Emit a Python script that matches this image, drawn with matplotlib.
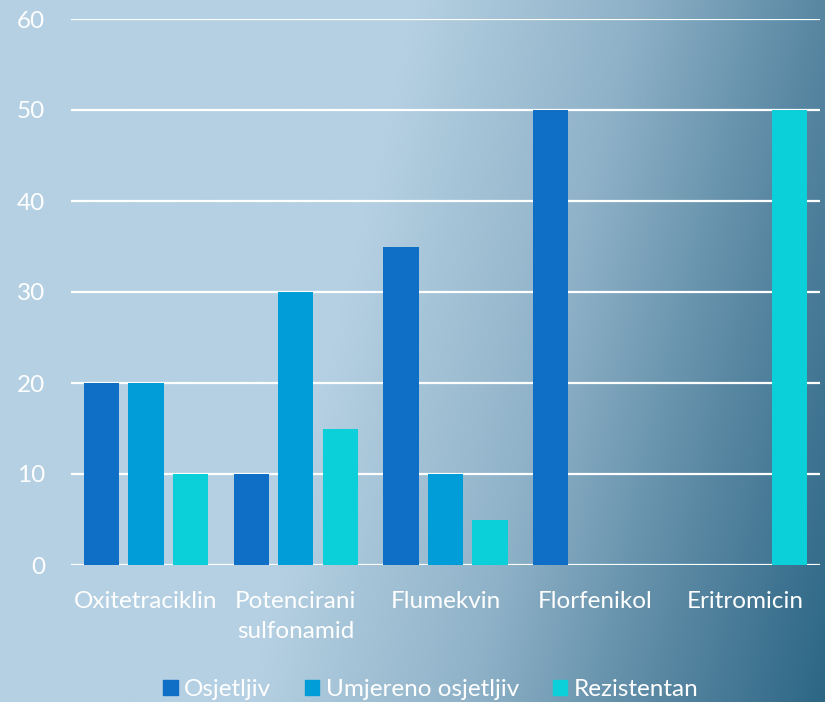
import numpy as np
import matplotlib.pyplot as plt
from matplotlib.colors import LinearSegmentedColormap
from matplotlib.patches import Patch

# antibiotic sensitivity results (percent of isolates)
lijekovi = ["Oxitetraciklin", "Potencirani\nsulfonamid", "Flumekvin", "Florfenikol", "Eritromicin"]
osjetljiv = [20, 10, 35, 50, 0]
umjereno = [20, 30, 10, 0, 0]
rezistentan = [10, 15, 5, 0, 50]
serije = ["Osjetljiv", "Umjereno osjetljiv", "Rezistentan"]
boje = ["#0f6fc6", "#009dd9", "#0bd0d9"]

plt.rcParams['font.family'] = ['Lato', 'DejaVu Sans']

fig = plt.figure(figsize=(8.25, 7.02), dpi=100)

# gradient background, light on the left, dark blue toward bottom-right
bg = fig.add_axes([0, 0, 1, 1], zorder=0)
h, w = 351, 412
yy, xx = np.mgrid[0:h, 0:w]
u = xx / w + 0.2 * yy / h
t = np.clip((u - 0.5) / 0.7, 0, 1)
cmap = LinearSegmentedColormap.from_list(
    "pozadina", [(0, "#b5d0e2"), (0.38, "#8fb2c8"), (0.7, "#5a88a3"), (1, "#2c6685")])
bg.imshow(t, cmap=cmap, aspect="auto", extent=[0, 1, 0, 1], origin="upper", vmin=0, vmax=1)
bg.axis("off")

ax = fig.add_axes([71 / 825, 1 - 565 / 702, (820 - 71) / 825, (565 - 19) / 702], zorder=1)
ax.patch.set_alpha(0)

x = np.arange(len(lijekovi))
sirina = 0.235
pomak = 0.297
for i, (vrijednosti, boja) in enumerate(zip([osjetljiv, umjereno, rezistentan], boje)):
    ax.bar(x + (i - 1) * pomak, vrijednosti, sirina, color=boja, zorder=3)

ax.set_xlim(-0.5, len(lijekovi) - 0.5)
ax.set_ylim(0, 60)
ax.set_yticks(range(0, 61, 10))
ax.yaxis.grid(True, color="white", linewidth=1.6, zorder=0)
for s in ax.spines.values():
    s.set_visible(False)
ax.tick_params(length=0, colors="white", labelsize=17.5)
ax.tick_params(axis="y", pad=18.5)
ax.tick_params(axis="x", pad=19)
ax.set_xticks(x)
ax.set_xticklabels(lijekovi, linespacing=1.5)

ruke = [Patch(color=b, label=s) for b, s in zip(boje, serije)]
fig.legend(handles=ruke, loc="center", bbox_to_anchor=(0.522, 0.018), ncol=3,
           frameon=False, fontsize=17.5, labelcolor="white", handlelength=0.6,
           handleheight=0.6, handletextpad=0.25, columnspacing=1.4,
           borderpad=0, borderaxespad=0)

fig.savefig("out.png", dpi=100)
